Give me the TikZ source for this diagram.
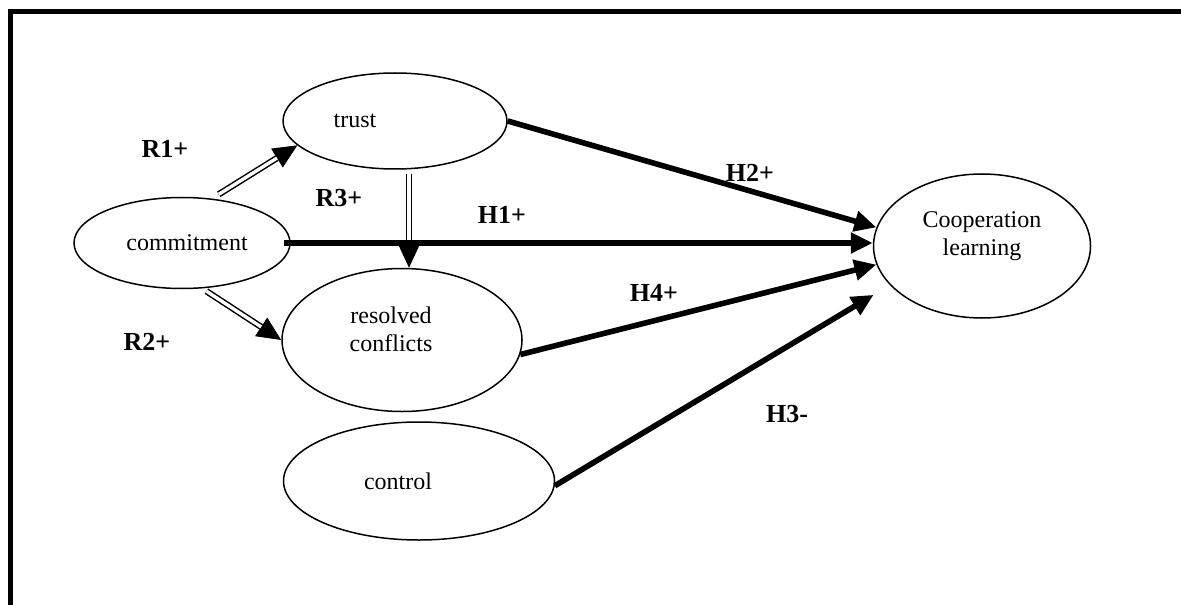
\documentclass[tikz,border=0pt]{standalone}
\usepackage{fontspec}
\setmainfont{Liberation Serif}
\usetikzlibrary{shapes.geometric,arrows.meta}
\begin{document}
\begin{tikzpicture}[x=0.5pt,y=-0.5pt,
	oval/.style={draw,ellipse,line width=0.75pt,inner sep=0pt},
	txt/.style={font=\fontsize{12}{14}\selectfont,align=center},
	hyp/.style={line width=2.8pt,-{Triangle[length=11pt,width=10pt]}},
	rtip/.style={line width=0.4pt,-{Triangle[length=12pt,width=11pt]}},
	rdbl/.style={double,line width=0.75pt,double distance=1.7pt,shorten >=12pt},
	lab/.style={font=\fontsize{13}{15}\selectfont\bfseries}]
			\useasboundingbox (0,0) rectangle (1181,604);
			\draw [line width=2.5pt] (10,610) -- (10,11.5) -- (1190,11.5);
			\node [oval,minimum width=108pt,minimum height=45.5pt,label={[txt,name=tcommit,xshift=2.5pt]center:commitment}] (commit) at (182,243) {};
			\node [oval,minimum width=112pt,minimum height=48pt,label={[txt,name=ttrust,xshift=-20pt]center:trust}] (trust) at (395,121) {};
			\node [oval,minimum width=120pt,minimum height=71.5pt,label={[txt,name=tresolved,xshift=-5.5pt,yshift=5.5pt]center:resolved\\conflicts}] (resolved) at (402,340) {};
			\node [oval,minimum width=135.5pt,minimum height=59pt,label={[txt,name=tcontrol,xshift=-10.5pt]center:control}] (control) at (419,481) {};
			\node [oval,minimum width=108.5pt,minimum height=72pt,label={[txt,name=tcoop,yshift=5pt]center:Cooperation\\learning}] (coop) at (982,246) {};
			\draw [rtip,shorten <=4pt] (commit.56) -- (trust.194);
			\draw [rdbl,shorten <=4pt] (commit.56) -- (trust.194);
			\draw [rtip,shorten <=2.5pt] (commit.-66) -- (resolved.180);
			\draw [rdbl,shorten <=2.5pt] (commit.-66) -- (resolved.180);
			\draw [rtip,shorten <=2pt] ([xshift=7pt]trust.south) -- ([xshift=7pt]trust.south |- resolved.north);
			\draw [rdbl,shorten <=2pt] ([xshift=7pt]trust.south) -- ([xshift=7pt]trust.south |- resolved.north);
			\draw [hyp] ([xshift=-3.5pt]commit.east) -- (commit.east -| coop.west);
			\draw [hyp] (trust.east) -- (coop.170);
			\draw [hyp] (resolved.-7) -- (coop.190);
			\draw [hyp,shorten >=9.5pt] (control.-2) -- (coop.203);
			\node [lab] (r1) at (165,149) {R1+};
			\node [lab] (r2) at (147,342) {R2+};
			\node [lab] (r3) at (339,198) {R3+};
			\node [lab] (h1) at (502,215) {H1+};
			\node [lab] (h2) at (750,173) {H2+};
			\node [lab] (h4) at (654,293) {H4+};
			\node [lab] (h3) at (787,414) {H3-};
\end{tikzpicture}
\end{document}
